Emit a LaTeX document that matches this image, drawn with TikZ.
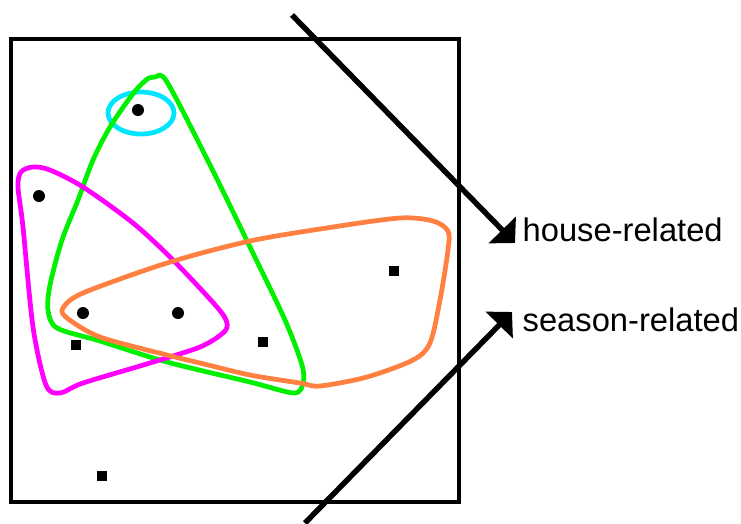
\documentclass[tikz,border=0pt]{standalone}
\usepackage{fontspec}
\setmainfont{Liberation Sans}
\usepackage{tikz}
\usetikzlibrary{positioning, arrows.meta}
\definecolor{hgreen}{RGB}{0,240,0}
\definecolor{hmag}{RGB}{255,0,255}
\definecolor{hcyan}{RGB}{0,230,255}
\definecolor{horange}{RGB}{255,128,64}
\tikzset{
  pt/.style={circle, fill=black, inner sep=0pt, minimum size=1.2mm},
  sq/.style={rectangle, fill=black, inner sep=0pt, minimum size=0.95mm},
  hedge/.style={line width=1.35pt, line join=round},
  lbl/.style={anchor=base west, inner sep=0pt, font=\fontsize{9.3}{11}\selectfont},
  arr/.style={-{Triangle[length=5.2pt,width=10.6pt]}, line width=1.55pt},
}

\begin{document}
\begin{tikzpicture}[x=0.01cm, y=-0.01cm]
        \useasboundingbox (0,0) rectangle (741,523);
        \draw[line width=1pt] (11,39) rectangle (459,502);
        % points
        \node[pt](p1) at (138,110){};
        \node[pt](p2) at (39,196){};
        \node[pt](p3) at (83,313){};
        \node[pt](p4) at (178,313){};
        \node[sq](s1) at (76,345){};
        \node[sq](s2) at (263,342){};
        \node[sq](s3) at (394,271){};
        \node[sq](s4) at (102,476){};
        % hyperedges
        \draw[hedge, hcyan] (p1) ++(3,3) ellipse [x radius=33, y radius=21];
        \draw[hedge, hgreen] plot[smooth cycle, tension=0.5] coordinates {
          (155,77) (167,82) (210,165) (250,247) (285,320) (302,365) (303,383)
          (294,393) (250,382) (167,362) (100,341) (57,328) (48,310) (50,285)
          (62,240) (78,200) (93,160) (110,127) (132,95) (146,80)};
        \draw[hedge, hmag] plot[smooth cycle, tension=0.5] coordinates {
          (21,172) (33,167) (50,170) (83,187) (133,223) (173,260) (217,307)
          (227,323) (223,333) (200,347) (150,363) (83,383) (60,393) (46,385)
          (33,327) (23,227) (18,187)};
        \draw[hedge, horange] plot[smooth cycle, tension=0.5] coordinates {
          (63,308) (83,293) (167,263) (250,241) (333,227) (400,218) (433,221)
          (448,231) (448,250) (440,300) (430,343) (413,360) (367,377) (320,386)
          (300,383) (250,375) (200,363) (167,355) (100,337) (67,318)};
        % labels
        \coordinate(hs) at (292,15);
        \coordinate(ht) at (515,243);
        \coordinate(ss) at (305,523);
        \coordinate(st) at (512,312);
        \node[lbl](house) at (522,241){house-related};
        \node[lbl](season) at (522,331){season-related};
        \draw[arr](hs)--(ht); \draw[arr](ss)--(st);
      \end{tikzpicture}
\end{document}
